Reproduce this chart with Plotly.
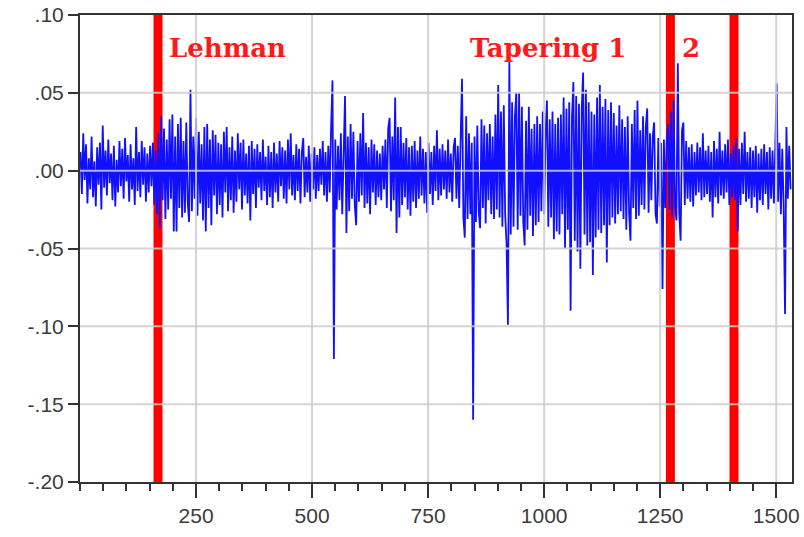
import plotly.graph_objects as go

obs_step = 3
returns = [
    0.012, -0.015, 0.024, -0.006, 0.017, -0.021, 0.008, -0.012, 0.022, -0.017,
    0.006, -0.023, 0.015, -0.009, 0.018, -0.025, 0.029, -0.011, 0.013, -0.016,
    0.020, -0.008, 0.011, -0.019, 0.016, -0.023, 0.007, -0.014, 0.019, -0.010,
    0.014, -0.018, 0.021, -0.007, 0.010, -0.020, 0.017, -0.012, 0.008, -0.022,
    0.028, -0.013, 0.012, -0.017, 0.019, -0.009, 0.015, -0.020, 0.011, -0.014,
    0.016, -0.010, 0.018, -0.022, 0.013, -0.028, 0.024, -0.037, 0.035, -0.019,
    0.027, -0.031, 0.020, -0.025, 0.033, -0.018, 0.036, -0.039, 0.022, -0.039,
    0.030, -0.024, 0.034, -0.030, 0.019, -0.027, 0.031, -0.020, -0.033, 0.052,
    -0.026, 0.022, -0.018, 0.034, -0.029, 0.025, -0.021, 0.017, -0.032, 0.028,
    -0.039, 0.030, -0.024, 0.020, -0.035, 0.026, -0.016, 0.023, -0.028, 0.018,
    -0.022, 0.017, -0.030, 0.025, -0.014, 0.028, -0.026, 0.015, -0.019, 0.022,
    -0.027, 0.013, -0.020, 0.024, -0.012, 0.018, -0.025, 0.020, -0.016, 0.011,
    -0.021, 0.016, -0.032, 0.019, -0.015, 0.014, -0.024, 0.017, -0.011, 0.012,
    -0.019, 0.020, -0.013, 0.009, -0.022, 0.016, -0.017, 0.012, -0.024, 0.018,
    -0.014, 0.011, -0.020, 0.019, -0.010, 0.015, -0.018, 0.013, -0.021, 0.020,
    -0.012, 0.024, -0.016, 0.010, -0.019, 0.017, -0.013, 0.014, -0.021, 0.012,
    0.021, -0.017, 0.009, -0.014, 0.016, -0.020, 0.011, -0.012, 0.015, -0.018,
    0.010, -0.013, 0.014, -0.009, 0.019, -0.016, 0.012, -0.020, 0.016, -0.014,
    0.028, 0.058, -0.121, 0.020, -0.025, 0.016, -0.019, 0.024, -0.028, 0.018,
    0.048, -0.040, 0.022, -0.026, 0.030, -0.018, 0.025, -0.022, -0.035, 0.019,
    -0.020, 0.024, -0.016, 0.037, -0.024, 0.018, -0.021, 0.015, -0.028, 0.020,
    -0.014, 0.017, -0.022, 0.013, -0.017, 0.011, -0.019, 0.016, -0.012, 0.020,
    -0.024, 0.027, 0.034, -0.026, 0.022, -0.019, 0.047, -0.040, 0.028, -0.030,
    0.028, -0.022, 0.018, -0.017, 0.021, -0.025, 0.015, -0.029, 0.016, -0.020,
    0.019, -0.024, 0.013, -0.018, 0.022, -0.016, 0.014, -0.021, 0.012, -0.027,
    0.018, -0.015, 0.012, -0.022, 0.016, -0.013, 0.026, -0.019, 0.014, -0.016,
    0.017, -0.012, 0.013, -0.018, 0.020, -0.014, 0.011, -0.020, 0.015, 0.021,
    -0.018, 0.016, -0.024, 0.019, 0.059, -0.030, -0.043, 0.035, -0.031, 0.024,
    -0.028, 0.018, -0.160, 0.022, -0.033, 0.029, -0.026, -0.037, 0.033, -0.024,
    0.029, -0.034, 0.024, -0.019, 0.030, -0.028, 0.022, -0.031, 0.036, -0.025,
    0.055, -0.030, 0.038, -0.036, 0.042, -0.028, -0.047, -0.099, 0.070, -0.041,
    0.044, -0.036, 0.035, 0.050, -0.038, 0.050, -0.029, 0.041, -0.033, -0.048,
    0.032, -0.038, 0.041, -0.029, 0.027, -0.042, 0.030, -0.035, 0.035, -0.033,
    0.030, -0.026, 0.038, -0.028, 0.024, 0.045, -0.036, 0.033, -0.030, 0.038,
    -0.044, 0.030, -0.039, 0.034, -0.041, 0.036, -0.028, 0.047, -0.050, 0.040,
    -0.038, 0.044, -0.090, 0.035, 0.057, -0.045, 0.048, -0.052, 0.043, -0.063,
    0.040, 0.063, -0.041, 0.052, -0.048, 0.044, -0.046, 0.038, -0.067, 0.036,
    -0.043, 0.047, -0.038, 0.055, -0.040, 0.041, -0.035, 0.046, -0.059, 0.039,
    -0.035, 0.044, -0.030, 0.037, -0.034, 0.029, -0.028, 0.042, -0.026, 0.033,
    -0.031, 0.028, -0.038, 0.035, -0.027, -0.045, 0.030, -0.024, 0.039, -0.031,
    0.045, -0.029, 0.026, -0.022, 0.035, -0.025, 0.028, 0.040, -0.027, 0.024,
    -0.019, 0.022, 0.031, -0.028, -0.034, 0.021, -0.023, 0.018, -0.076, 0.020,
    -0.024, 0.018, 0.030, -0.025, 0.038, -0.030, 0.045, -0.022, -0.032, 0.069,
    -0.027, -0.045, 0.026, 0.031, -0.022, 0.019, -0.018, 0.015, -0.020, 0.017,
    -0.023, 0.012, -0.016, 0.018, -0.014, 0.015, -0.019, 0.024, -0.017, 0.013,
    -0.015, 0.016, -0.020, 0.012, -0.030, 0.019, -0.017, 0.014, -0.021, 0.025,
    -0.016, 0.013, -0.018, 0.017, -0.014, 0.020, -0.022, 0.011, -0.017, 0.016,
    -0.019, 0.021, -0.039, 0.014, -0.022, 0.018, -0.015, 0.025, -0.020, 0.012,
    -0.018, 0.015, -0.024, 0.013, -0.017, 0.016, -0.027, 0.011, -0.019, 0.014,
    -0.022, 0.017, -0.015, 0.012, -0.025, 0.015, -0.018, 0.013, -0.021, 0.016,
    0.056, -0.020, 0.018, -0.028, 0.014, -0.022, -0.092, 0.028, -0.018, 0.016,
    -0.012,
]
obs_index = [1 + obs_step * i for i in range(len(returns))]

event_x = [168, 1272, 1409]
event_labels = ["Lehman", "Tapering 1", "2"]
event_label_x = [187, 836, 1293]
event_label_y = 0.079

x_ticks = [250, 500, 750, 1000, 1250, 1500]
x_tick_text = ["250", "500", "750", "1000", "1250", "1500"]
y_ticks = [0.10, 0.05, 0.00, -0.05, -0.10, -0.15, -0.20]
y_tick_text = [".10", ".05", ".00", "-.05", "-.10", "-.15", "-.20"]
x_range = [0, 1534]
y_range = [-0.20, 0.10]

fig = go.Figure()
fig.add_trace(go.Scatter(x=obs_index, y=returns, mode="lines",
                         line=dict(color="#1010ff", width=1.8),
                         hoverinfo="skip", showlegend=False))

# red event lines (below the data)
for ex in event_x:
    fig.add_shape(type="line", x0=ex, x1=ex, xref="x", y0=0, y1=1, yref="paper",
                  line=dict(color="#ff0000", width=9), layer="below")

# grid lines drawn above the data (as in the original)
grid_col = "rgba(205,205,205,0.85)"
for xv in x_ticks:
    fig.add_shape(type="line", x0=xv, x1=xv, xref="x", y0=0, y1=1, yref="paper",
                  line=dict(color=grid_col, width=2), layer="above")
for yv in y_ticks:
    if y_range[0] < yv < y_range[1]:
        fig.add_shape(type="line", x0=0, x1=1, xref="paper", y0=yv, y1=yv, yref="y",
                      line=dict(color=grid_col, width=2), layer="above")

for txt, lx in zip(event_labels, event_label_x):
    fig.add_annotation(x=lx, y=event_label_y, text="<b>" + txt + "</b>",
                       xanchor="left", yanchor="middle", showarrow=False,
                       font=dict(family="DejaVu Serif", size=26, color="#ff1a1a"))

tick_font = dict(family="Liberation Sans, Arial", size=21, color="#3c3c3c")
fig.update_xaxes(range=x_range, tickvals=x_ticks, ticktext=x_tick_text,
                 automargin=False,
                 showgrid=False, zeroline=False, showline=True, mirror=True,
                 linecolor="#333333", linewidth=2, ticks="outside", ticklen=14,
                 tickwidth=2, tickcolor="#333333", tickfont=tick_font,
                 minor=dict(dtick=50, tick0=0, ticks="outside", ticklen=7,
                            tickwidth=2, tickcolor="#333333", showgrid=False))
fig.update_yaxes(range=y_range, tickvals=y_ticks, ticktext=y_tick_text,
                 automargin=False,
                 showgrid=False, zeroline=False, showline=True, mirror=True,
                 linecolor="#333333", linewidth=2, ticks="outside", ticklen=10,
                 tickwidth=2, tickcolor="#333333", tickfont=tick_font)

fig.update_layout(width=804, height=537, paper_bgcolor="white", plot_bgcolor="white",
                  margin=dict(l=80, r=12, t=15, b=55), showlegend=False)

fig.write_html("out.html")
